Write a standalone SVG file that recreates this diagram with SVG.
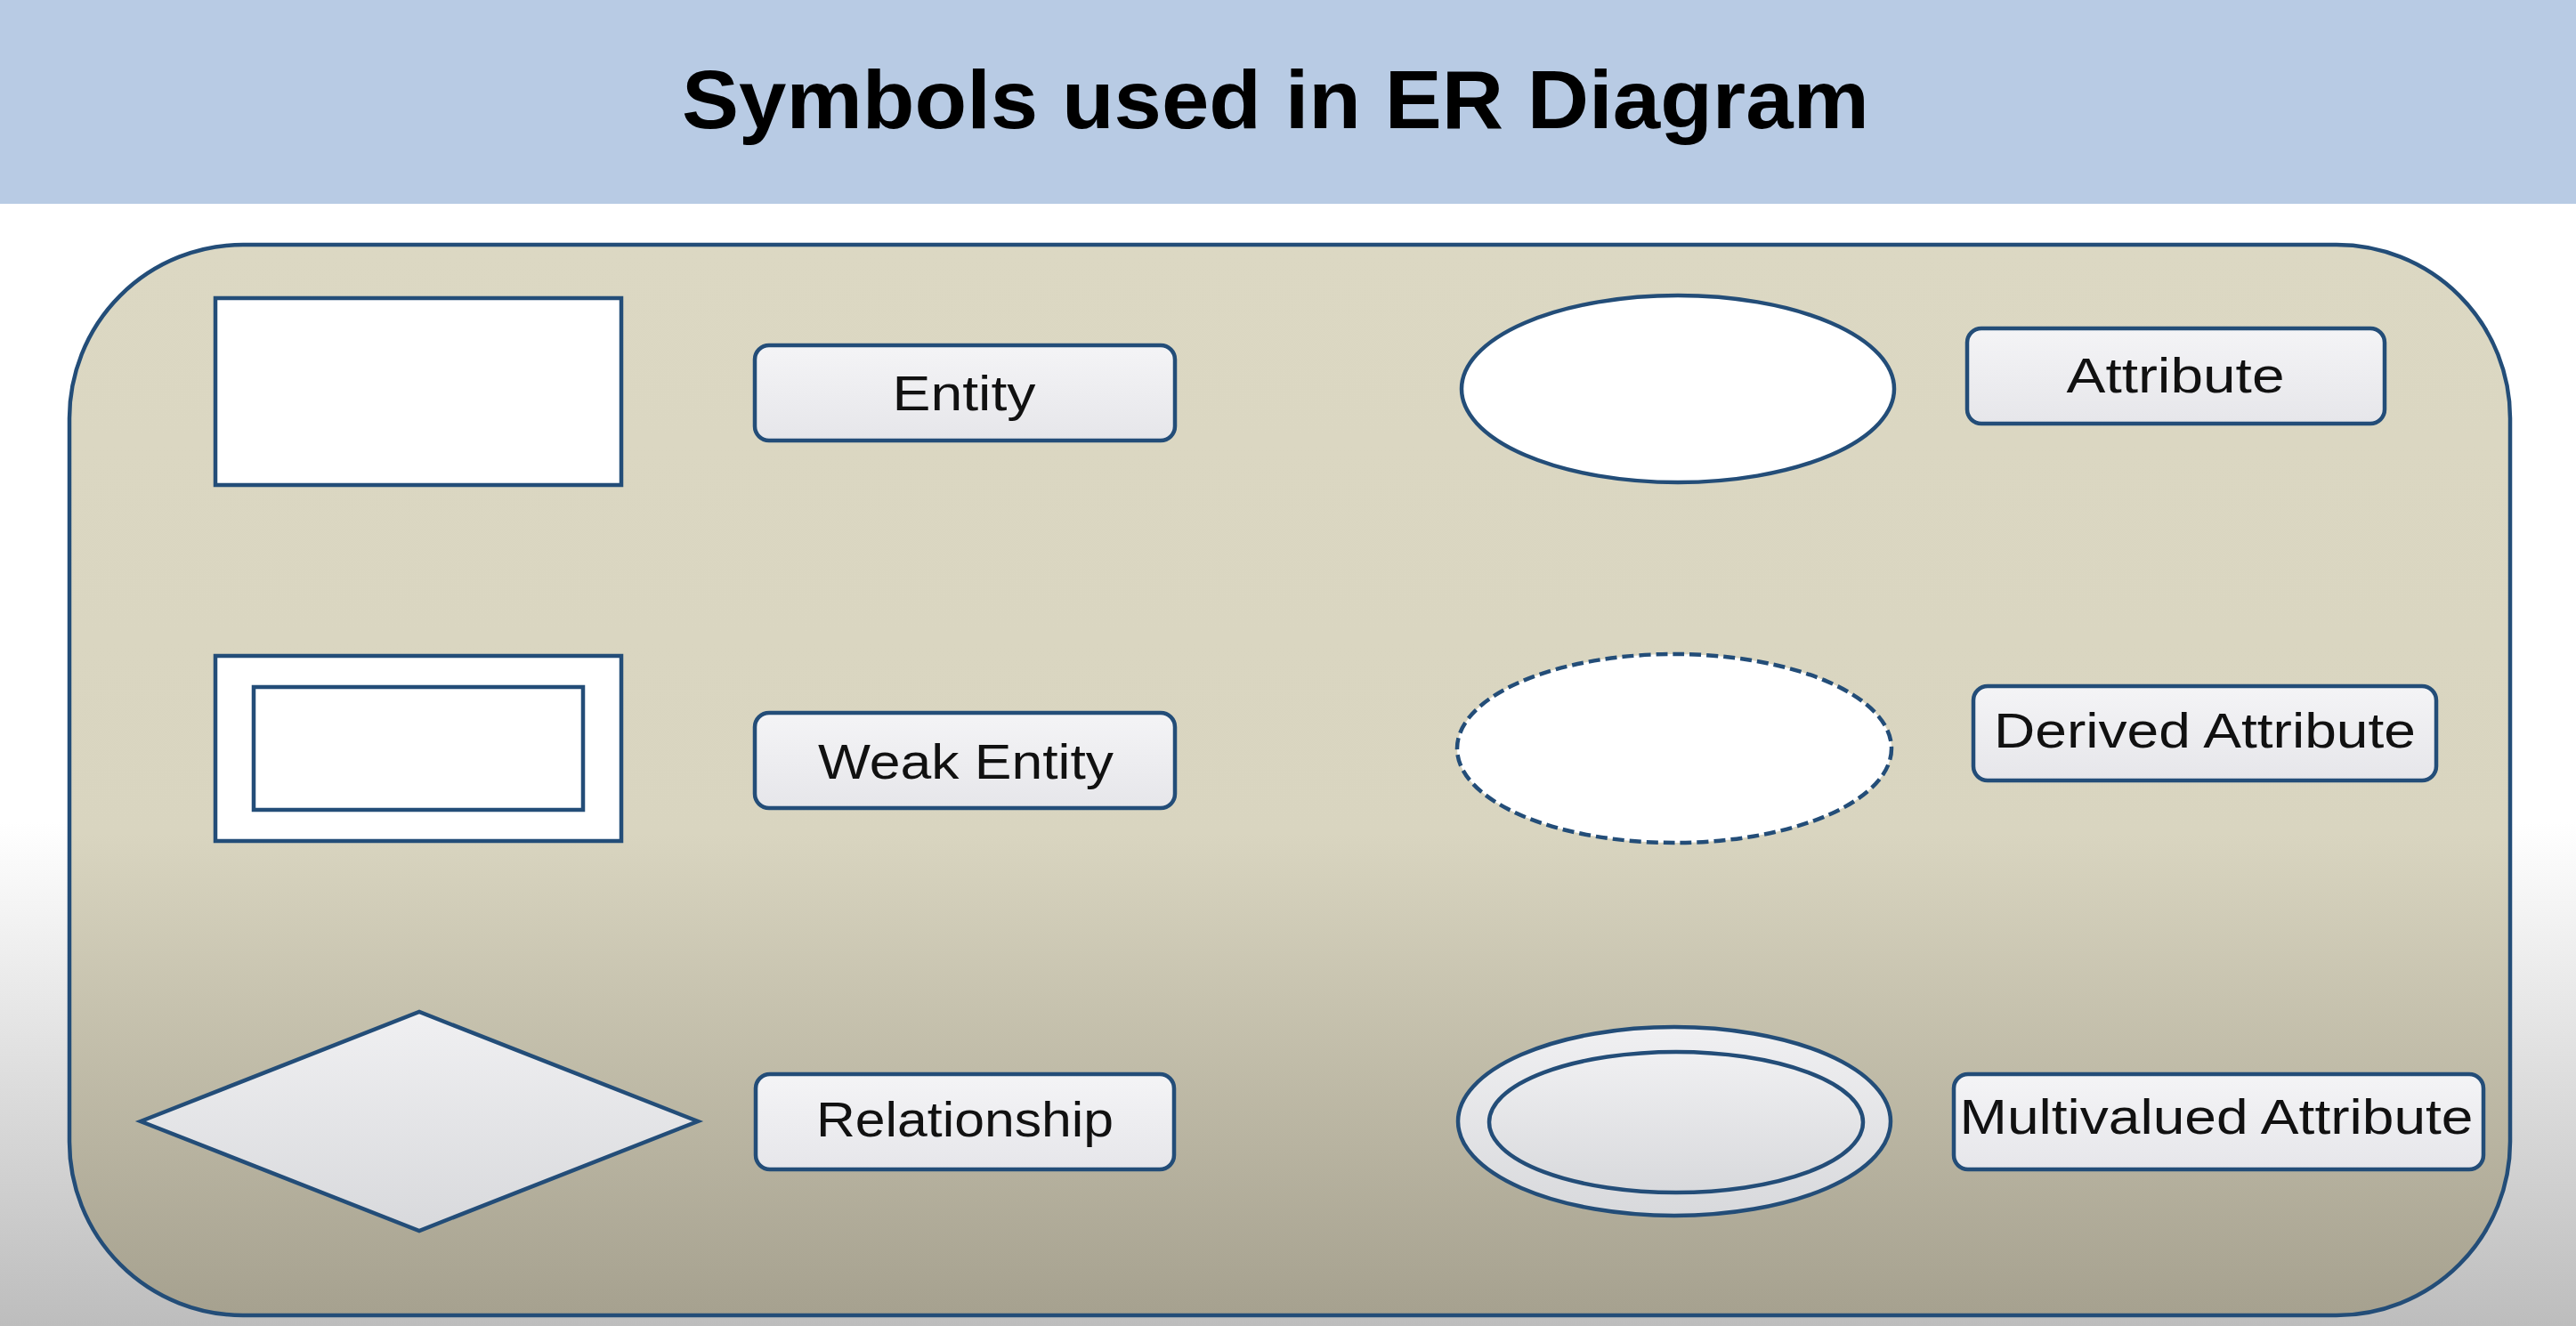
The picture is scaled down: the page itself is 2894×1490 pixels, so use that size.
<svg xmlns="http://www.w3.org/2000/svg" width="2894" height="1490" viewBox="0 0 2894 1490">
<defs>
<linearGradient id="pageBg" x1="0" y1="0" x2="0" y2="1">
<stop offset="0" stop-color="#ffffff"/>
<stop offset="0.62" stop-color="#ffffff"/>
<stop offset="1" stop-color="#bdbdbd"/>
</linearGradient>
<linearGradient id="panelBg" x1="0" y1="0" x2="0" y2="1">
<stop offset="0" stop-color="#dcd8c3"/>
<stop offset="0.55" stop-color="#d9d5c0"/>
<stop offset="1" stop-color="#a6a18f"/>
</linearGradient>
<linearGradient id="grayFill" x1="0" y1="0" x2="0" y2="1">
<stop offset="0" stop-color="#f0f0f2"/>
<stop offset="1" stop-color="#d8d9dc"/>
</linearGradient>
<linearGradient id="labelFill" x1="0" y1="0" x2="0" y2="1">
<stop offset="0" stop-color="#f4f4f6"/>
<stop offset="1" stop-color="#e6e6ea"/>
</linearGradient>
</defs>
<style>
.shape{stroke:#234d78;stroke-width:4.5;}
.white{fill:#ffffff;}
.gray{fill:url(#grayFill);}
.lbox{fill:url(#labelFill);stroke:#234d78;stroke-width:4.5;}
.ltext{font-family:"Liberation Sans",Arial,sans-serif;font-size:56px;fill:#111111;}
.dash{stroke-dasharray:13 6;}
</style>
<rect x="0" y="0" width="2894" height="1490" fill="url(#pageBg)"/>
<g id="header">
<rect x="0" y="0" width="2894" height="229" fill="#b8cbe4"/>
<text x="1433" y="144" text-anchor="middle" font-family="'Liberation Sans',Arial,sans-serif" font-weight="bold" font-size="93" fill="#000000" textLength="1334" lengthAdjust="spacingAndGlyphs">Symbols used in ER Diagram</text>
</g>
<g id="panel">
<rect x="78" y="275" width="2742" height="1203" rx="195" ry="195" fill="url(#panelBg)" stroke="#234d78" stroke-width="4.5"/>
</g>
<g id="entity">
<rect class="shape white" x="242" y="335" width="456" height="210"/>
</g>
<g id="entity-label">
<rect class="lbox" x="848" y="388" width="472" height="107" rx="16"/>
<text class="ltext" x="1083" y="461" text-anchor="middle" textLength="161" lengthAdjust="spacingAndGlyphs">Entity</text>
</g>
<g id="weak-entity">
<rect class="shape white" x="242" y="737" width="456" height="208"/>
<rect class="shape white" x="285" y="772" width="370" height="138"/>
</g>
<g id="weak-entity-label">
<rect class="lbox" x="848" y="801" width="472" height="107" rx="16"/>
<text class="ltext" x="1085" y="875" text-anchor="middle" textLength="332" lengthAdjust="spacingAndGlyphs">Weak Entity</text>
</g>
<g id="relationship">
<polygon class="shape gray" points="158,1260 471,1137 784,1260 471,1383" stroke-linejoin="miter"/>
</g>
<g id="relationship-label">
<rect class="lbox" x="849" y="1207" width="470" height="107" rx="16"/>
<text class="ltext" x="1084" y="1277" text-anchor="middle" textLength="334" lengthAdjust="spacingAndGlyphs">Relationship</text>
</g>
<g id="attribute">
<ellipse class="shape white" cx="1885" cy="437" rx="243" ry="105"/>
</g>
<g id="attribute-label">
<rect class="lbox" x="2210" y="369" width="469" height="107" rx="16"/>
<text class="ltext" x="2444" y="441" text-anchor="middle" textLength="245" lengthAdjust="spacingAndGlyphs">Attribute</text>
</g>
<g id="derived-attribute">
<ellipse class="shape white dash" cx="1881" cy="841" rx="244" ry="106"/>
</g>
<g id="derived-attribute-label">
<rect class="lbox" x="2217" y="771" width="520" height="106" rx="16"/>
<text class="ltext" x="2477" y="840" text-anchor="middle" textLength="474" lengthAdjust="spacingAndGlyphs">Derived Attribute</text>
</g>
<g id="multivalued-attribute">
<ellipse class="shape gray" cx="1881" cy="1260" rx="243" ry="106"/>
<ellipse class="shape gray" cx="1883" cy="1261" rx="210" ry="79"/>
</g>
<g id="multivalued-attribute-label">
<rect class="lbox" x="2195" y="1207" width="595" height="107" rx="16"/>
<text class="ltext" x="2490" y="1274" text-anchor="middle" textLength="577" lengthAdjust="spacingAndGlyphs">Multivalued Attribute</text>
</g>
</svg>
